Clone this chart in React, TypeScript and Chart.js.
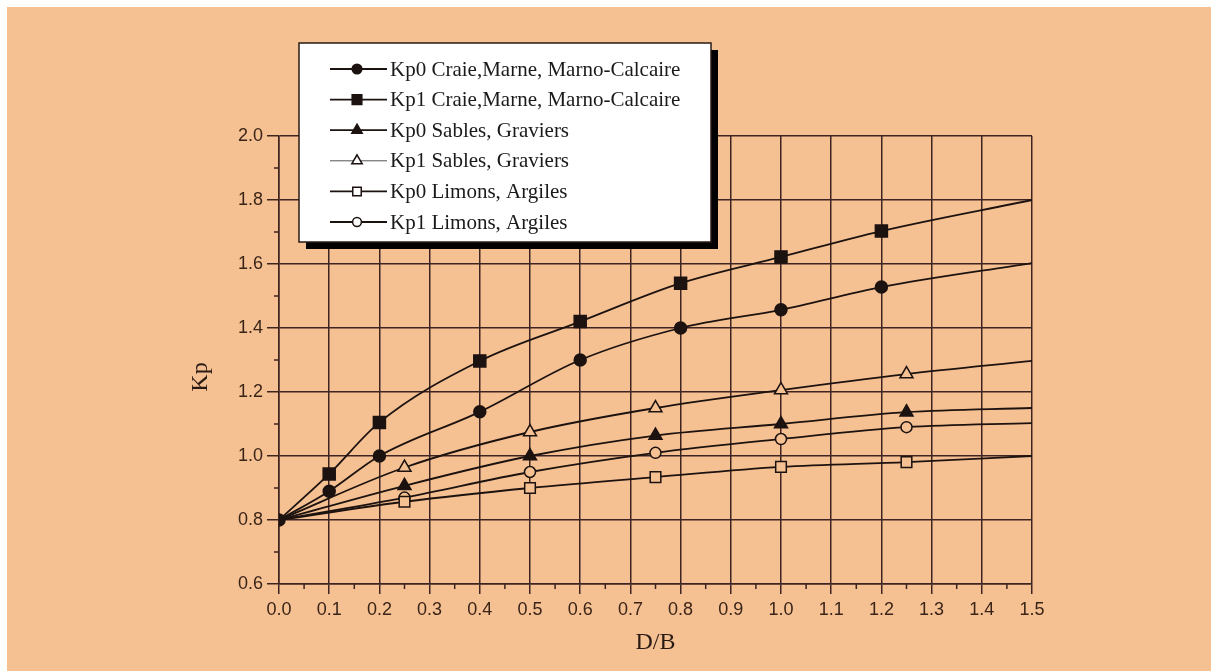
import React, { useEffect, useRef } from 'react';
import { Chart, registerables } from 'chart.js';

Chart.register(...registerables);

// ---------- data ----------
const seriesNames = [
  'Kp0 Craie,Marne, Marno-Calcaire',
  'Kp1 Craie,Marne, Marno-Calcaire',
  'Kp0 Sables, Graviers',
  'Kp1 Sables, Graviers',
  'Kp0 Limons, Argiles',
  'Kp1 Limons, Argiles',
];
const craieDB = [0, 0.1, 0.2, 0.4, 0.6, 0.8, 1.0, 1.2, 1.5];
const kp0Craie = [0.8, 0.89, 1.0, 1.138, 1.3, 1.4, 1.457, 1.528, 1.603];
const kp1Craie = [0.8, 0.944, 1.105, 1.297, 1.42, 1.54, 1.622, 1.703, 1.8];
const otherDB = [0, 0.25, 0.5, 0.75, 1.0, 1.25, 1.5];
const kp0Sables = [0.8, 0.907, 1.0, 1.064, 1.1, 1.137, 1.15];
const kp1Sables = [0.8, 0.964, 1.075, 1.15, 1.206, 1.256, 1.297];
const kp0Limons = [0.8, 0.857, 0.9, 0.934, 0.966, 0.981, 1.0];
const kp1Limons = [0.8, 0.87, 0.95, 1.01, 1.053, 1.09, 1.103];

const xMin = 0, xMax = 1.5, xStep = 0.1, xMinorStep = 0.05;
const yMin = 0.6, yMax = 2.0, yStep = 0.2, yMinorStep = 0.1;
const xTitle = 'D/B';
const yTitle = 'Kp';

// ---------- styles ----------
const PEACH = 'rgb(246,193,146)';
const INK = '#1c1210';
const GRID = '#3e2420';
const LABEL = '#3a2418';

type Mk = { style: string; r: number; filled: boolean };
const markers: Mk[] = [
  { style: 'circle', r: 6, filled: true },
  { style: 'rect', r: 8.5, filled: true },
  { style: 'triangle', r: 7.5, filled: true },
  { style: 'triangle', r: 7.5, filled: false },
  { style: 'rect', r: 7.5, filled: false },
  { style: 'circle', r: 5.5, filled: false },
];

function pts(xs: number[], ys: number[]) {
  return xs.map((x, i) => ({ x, y: ys[i] }));
}

function radii(n: number, r: number, showFirst: boolean) {
  return Array.from({ length: n }, (_, i) => (i === n - 1 ? 0 : i === 0 && !showFirst ? 0 : r));
}

function drawMarker(ctx: CanvasRenderingContext2D, m: Mk, x: number, y: number) {
  ctx.beginPath();
  if (m.style === 'circle') {
    ctx.arc(x, y, m.r, 0, Math.PI * 2);
  } else if (m.style === 'rect') {
    const s = m.r * Math.SQRT1_2;
    ctx.rect(x - s, y - s, 2 * s, 2 * s);
  } else {
    const r = m.r;
    ctx.moveTo(x, y - r);
    ctx.lineTo(x + Math.cos(Math.PI / 6) * r, y + Math.sin(Math.PI / 6) * r);
    ctx.lineTo(x - Math.cos(Math.PI / 6) * r, y + Math.sin(Math.PI / 6) * r);
    ctx.closePath();
  }
  ctx.fillStyle = m.filled ? INK : '#ffffff';
  ctx.fill();
  ctx.lineWidth = 1.5;
  ctx.strokeStyle = INK;
  ctx.stroke();
}

const backgroundPlugin = {
  id: 'bgPanel',
  beforeDraw(chart: any) {
    const { ctx, width, height } = chart;
    ctx.save();
    ctx.fillStyle = '#ffffff';
    ctx.fillRect(0, 0, width, height);
    ctx.fillStyle = PEACH;
    ctx.fillRect(7, 7, 1204, height - 7);
    ctx.restore();
  },
};

const minorTicksPlugin = {
  id: 'minorTicks',
  afterDraw(chart: any) {
    const { ctx, scales } = chart;
    const xs = scales.x, ys = scales.y;
    ctx.save();
    ctx.strokeStyle = GRID;
    ctx.lineWidth = 1.5;
    ctx.beginPath();
    for (let v = xMin + xMinorStep; v < xMax; v += xStep) {
      const px = xs.getPixelForValue(v);
      ctx.moveTo(px, ys.bottom);
      ctx.lineTo(px, ys.bottom + 5);
    }
    for (let v = yMin + yMinorStep; v < yMax; v += yStep) {
      const py = ys.getPixelForValue(v);
      ctx.moveTo(xs.left, py);
      ctx.lineTo(xs.left - 5, py);
    }
    ctx.stroke();
    // axis titles
    ctx.fillStyle = '#2a1a14';
    ctx.font = '24px "Liberation Serif", "DejaVu Serif", serif';
    ctx.textAlign = 'center';
    ctx.textBaseline = 'middle';
    ctx.fillText(xTitle, (xs.left + xs.right) / 2, 643);
    ctx.translate(201, 377);
    ctx.rotate(-Math.PI / 2);
    ctx.fillText(yTitle, 0, 0);
    ctx.restore();
  },
};

const legendPlugin = {
  id: 'lineLegend',
  afterDraw(chart: any) {
    const { ctx } = chart;
    const L = 299, T = 43, W = 412, H = 199;
    ctx.save();
    ctx.fillStyle = '#000000';
    ctx.fillRect(L + 7, T + 7, W, H);
    ctx.fillStyle = '#ffffff';
    ctx.fillRect(L, T, W, H);
    ctx.strokeStyle = '#2a1a14';
    ctx.lineWidth = 1.5;
    ctx.strokeRect(L, T, W, H);
    ctx.font = '21px "Liberation Serif", "DejaVu Serif", serif';
    ctx.textBaseline = 'middle';
    ctx.textAlign = 'left';
    seriesNames.forEach((name, i) => {
      const y = T + 26 + i * 30.6;
      ctx.strokeStyle = i === 3 ? '#555' : INK;
      ctx.lineWidth = i === 3 ? 1 : 1.8;
      ctx.beginPath();
      ctx.moveTo(330, y);
      ctx.lineTo(387, y);
      ctx.stroke();
      const m = { ...markers[i], r: markers[i].r * 0.8 };
      drawMarker(ctx, m, 357, y);
      ctx.fillStyle = '#1a1a1a';
      ctx.fillText(name, 390, y + 1);
    });
    ctx.restore();
  },
};

function makeDataset(i: number, xs: number[], ys: number[]) {
  const m = markers[i];
  return {
    label: seriesNames[i],
    data: pts(xs, ys),
    borderColor: INK,
    borderWidth: 1.8,
    cubicInterpolationMode: 'monotone' as const,
    pointStyle: m.style,
    pointRadius: radii(xs.length, m.r, i === 0),
    pointHoverRadius: radii(xs.length, m.r, i === 0),
    pointBackgroundColor: m.filled ? INK : PEACH,
    pointBorderColor: INK,
    pointBorderWidth: 1.5,
    fill: false,
  };
}

export default function App() {
  const ref = useRef<HTMLCanvasElement | null>(null);
  useEffect(() => {
    document.body.style.margin = '0';
    const canvas = ref.current;
    if (!canvas) return;
    const chart = new Chart(canvas, {
      type: 'line',
      data: {
        datasets: [
          makeDataset(0, craieDB, kp0Craie),
          makeDataset(1, craieDB, kp1Craie),
          makeDataset(2, otherDB, kp0Sables),
          makeDataset(3, otherDB, kp1Sables),
          makeDataset(4, otherDB, kp0Limons),
          makeDataset(5, otherDB, kp1Limons),
        ] as any,
      },
      options: {
        responsive: false,
        animation: false,
        events: [],
        layout: { padding: { left: 0, top: 136, right: 184, bottom: 0 } },
        plugins: { legend: { display: false }, tooltip: { enabled: false } },
        scales: {
          x: {
            type: 'linear',
            min: xMin,
            max: xMax,
            afterFit: (s: any) => { s.height = 87; },
            ticks: {
              stepSize: xStep,
              autoSkip: false,
              maxRotation: 0,
              padding: 5,
              color: LABEL,
              font: { family: '"Liberation Sans", Arial, sans-serif', size: 18 },
              callback: (v: any) => Number(v).toFixed(1),
            },
            grid: { color: GRID, lineWidth: 1.5, tickLength: 10, tickColor: GRID },
            border: { color: GRID, width: 1.5 },
          },
          y: {
            type: 'linear',
            min: yMin,
            max: yMax,
            afterFit: (s: any) => { s.width = 279; },
            ticks: {
              stepSize: yStep,
              padding: 4,
              color: LABEL,
              font: { family: '"Liberation Sans", Arial, sans-serif', size: 18 },
              callback: (v: any) => Number(v).toFixed(1),
            },
            grid: { color: GRID, lineWidth: 1.5, tickLength: 12, tickColor: GRID },
            border: { color: GRID, width: 1.5 },
          },
        },
      },
      plugins: [backgroundPlugin, minorTicksPlugin, legendPlugin],
    });
    return () => chart.destroy();
  }, []);
  return (
    <div style={{ position: 'absolute', left: 0, top: 0, width: 1216, height: 671 }}>
      <canvas ref={ref} width={1216} height={671} />
    </div>
  );
}
